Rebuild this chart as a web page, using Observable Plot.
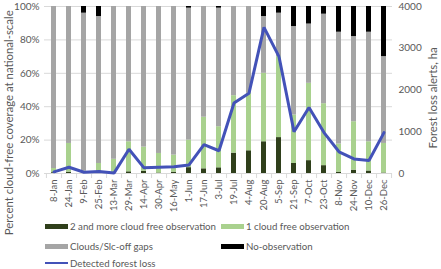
<!DOCTYPE html>
<html>
<head>
<meta charset="utf-8">
<script src="https://cdn.jsdelivr.net/npm/d3@7"></script>
<script src="https://cdn.jsdelivr.net/npm/@observablehq/plot@0.6"></script>
<style>
  html, body { margin: 0; padding: 0; background: #fff; }
  #wrap { position: relative; width: 441px; height: 269px; font-family: Lato, "Open Sans", sans-serif; color: #595959; overflow: hidden; }
  .ttl { position: absolute; font-size: 11.4px; white-space: nowrap; color: #595959; line-height: 1.2; }
  .leg { position: absolute; font-size: 9.7px; white-space: nowrap; display: flex; align-items: center; color: #595959; }
  .sw { display: inline-block; width: 23px; margin-right: 2px; flex: none; }
</style>
</head>
<body>
<div id="wrap"></div>
<script>
const dates = ["8-Jan","24-Jan","9-Feb","25-Feb","13-Mar","29-Mar","14-Apr","30-Apr","16-May","1-Jun","17-Jun","3-Jul","19-Jul","4-Aug","20-Aug","5-Sep","21-Sep","7-Oct","23-Oct","8-Nov","24-Nov","10-Dec","26-Dec"];
const twoPlus   = [0.5,0.8,0.3,0.3,0.3,1,1.4,0.3,0.8,3.5,2.8,3.4,12.2,13.6,19,21.5,6,7.7,4.7,0.8,2,1.5,0.3];
const oneFree   = [2.5,17.2,1.2,5.7,8.2,18,14.4,11.7,10.2,16.5,30.9,24.6,34.4,34.4,41,48.5,29,46.3,37.1,16.8,29,17.5,17.7];
const clouds    = [97,82,94.5,88,91.5,81,84.2,88,89,79,66.3,71,53.4,52,34,26,53,35.5,53.6,67,51,65.6,52];
const noObs     = [0,0,4,6,0,0,0,0,0,1,0,1,0,0,6,4,12,10.5,4.6,15.4,18,15.4,30];
const forestLoss = [40,150,30,50,10,580,135,150,160,205,690,545,1690,1925,3500,2800,1000,1580,980,520,350,310,980];

const seriesNames = ["2 and more cloud free observation","1 cloud free observation","Clouds/Slc-off gaps","No-observation"];
const seriesColors = ["#2f3f1b","#a9d18e","#a5a5a5","#000000"];
const lineName = "Detected forest loss";
const lineColor = "#4352b8";
const leftTitle = "Percent cloud-free coverage at national-scale";
const rightTitle = "Forest loss alerts, ha";
const leftTicks = [0,20,40,60,80,100];
const rightTicks = [0,1000,2000,3000,4000];
const rightMax = 4000;

const seriesValues = [twoPlus, oneFree, clouds, noObs];
const bars = [];
dates.forEach((d, i) => seriesNames.forEach((s, k) => bars.push({date: d, series: s, value: seriesValues[k][i]})));
const loss = dates.map((d, i) => ({date: d, loss: forestLoss[i]}));

const W = 441, H = 269, mL = 44, mR = 49, mT = 6, mB = 96;
const step = (W - mL - mR) / dates.length;
const toPct = v => v / rightMax * 100;

const chart = Plot.plot({
  width: W, height: H,
  marginLeft: mL, marginRight: mR, marginTop: mT, marginBottom: mB,
  style: {fontFamily: "Lato, 'Open Sans', sans-serif", fontSize: "9.5px", color: "#595959", background: "white"},
  x: {type: "band", domain: dates, paddingInner: 0.67, paddingOuter: 0.335, label: null},
  y: {domain: [0, 100], label: null},
  color: {domain: seriesNames, range: seriesColors},
  marks: [
    Plot.ruleY(leftTicks.filter(t => t > 0), {stroke: "#d9d9d9", strokeWidth: 1}),
    Plot.barY(bars, {x: "date", y: "value", fill: "series", order: seriesNames}),
    Plot.ruleY([0], {stroke: "#d9d9d9", strokeWidth: 1}),
    Plot.axisX({tickSize: 5, tickFormat: null, dx: step / 2, stroke: "#d9d9d9", text: null}),
    Plot.axisX({ticks: [dates[0]], tickSize: 5, dx: -step / 2, stroke: "#d9d9d9", text: null}),
    Plot.axisX({tickSize: 0, tickPadding: 6, tickRotate: -90, fill: "#595959", label: null, fontSize: 9.5}),
    Plot.axisY({ticks: leftTicks, tickSize: 0, tickPadding: 5, tickFormat: d => d + "%", fill: "#595959", label: null, fontSize: 10}),
    Plot.axisY({anchor: "right", ticks: rightTicks.map(toPct), tickSize: 0, tickPadding: 6, tickFormat: d => String(Math.round(d * rightMax / 100)), fill: "#595959", label: null, fontSize: 10}),
    Plot.line(loss, {x: "date", y: d => toPct(d.loss), stroke: lineColor, strokeWidth: 3, strokeLinejoin: "miter"})
  ]
});

const wrap = document.getElementById("wrap");
wrap.appendChild(chart);

function addTitle(text, cx, cy) {
  const el = document.createElement("div");
  el.className = "ttl";
  el.textContent = text;
  wrap.appendChild(el);
  const w = el.offsetWidth, h = el.offsetHeight;
  el.style.left = (cx - w / 2) + "px";
  el.style.top = (cy - h / 2) + "px";
  el.style.transform = "rotate(-90deg)";
}
addTitle(leftTitle, 8, 123);
addTitle(rightTitle, 432, 98);

const legendItems = [
  {name: seriesNames[0], color: seriesColors[0], x: 45, y: 226, h: 5},
  {name: seriesNames[1], color: seriesColors[1], x: 221, y: 226, h: 5},
  {name: seriesNames[2], color: seriesColors[2], x: 45, y: 246, h: 5},
  {name: seriesNames[3], color: seriesColors[3], x: 221, y: 246, h: 5},
  {name: lineName, color: lineColor, x: 45, y: 263, h: 2.5}
];
legendItems.forEach(it => {
  const el = document.createElement("div");
  el.className = "leg";
  const sw = document.createElement("span");
  sw.className = "sw";
  sw.style.height = it.h + "px";
  sw.style.background = it.color;
  el.appendChild(sw);
  el.appendChild(document.createTextNode(it.name));
  wrap.appendChild(el);
  el.style.left = it.x + "px";
  el.style.top = (it.y - el.offsetHeight / 2) + "px";
});
</script>
</body>
</html>
